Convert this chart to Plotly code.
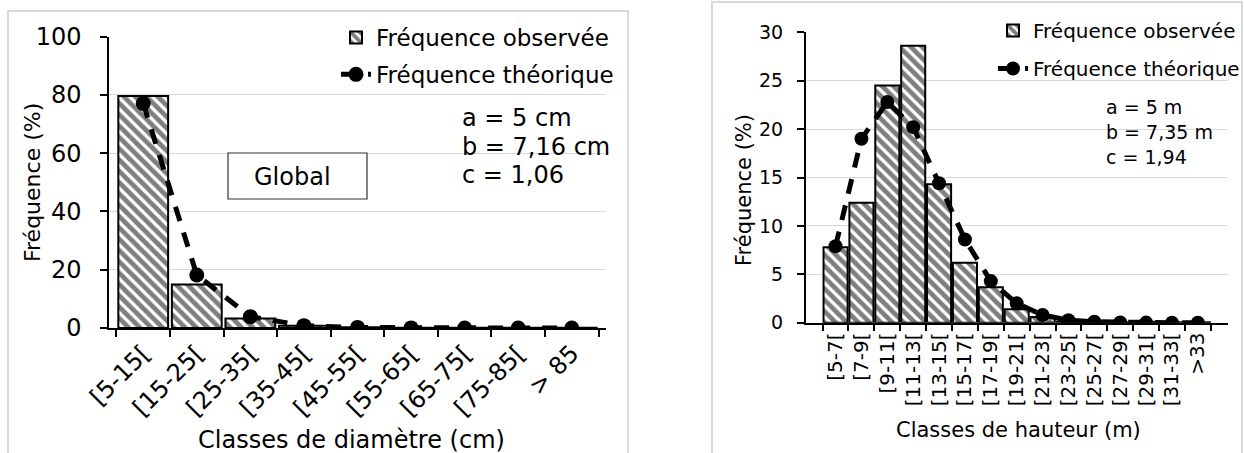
import plotly.graph_objects as go

# ---------------- data ----------------
diam_classes = ["[5-15[", "[15-25[", "[25-35[", "[35-45[", "[45-55[", "[55-65[", "[65-75[", "[75-85[", "> 85"]
diam_obs = [79.6, 14.9, 3.3, 0.8, 0.3, 0.1, 0.1, 0.05, 0.05]
diam_theo = [77.0, 18.2, 3.9, 0.8, 0.2, 0.04, 0.01, 0.0, 0.0]

haut_classes = ["[5-7[", "[7-9[", "[9-11[", "[11-13[", "[13-15[", "[15-17[", "[17-19[", "[19-21[",
                "[21-23[", "[23-25[", "[25-27[", "[27-29[", "[29-31[", "[31-33[", ">33"]
haut_obs = [7.8, 12.4, 24.5, 28.6, 14.3, 6.2, 3.65, 1.4, 0.6, 0.1, 0.1, 0.05, 0.1, 0.05, 0.05]
haut_theo = [7.9, 19.0, 22.8, 20.2, 14.4, 8.6, 4.3, 2.0, 0.8, 0.25, 0.1, 0.03, 0.01, 0.0, 0.0]

obs_name = "Fréquence observée"
theo_name = "Fréquence théorique"
left_params = ["a = 5 cm", "b = 7,16 cm", "c = 1,06"]
right_params = ["a = 5 m", "b = 7,35 m", "c = 1,94"]

W, H = 1244, 453
FONT = "DejaVu Sans, Liberation Sans, Arial, sans-serif"

def px(x):
    return x / W

def py(y):
    return (H - y) / H

fig = go.Figure()

pattern = dict(shape="\\", fgcolor="black", bgcolor="white", size=8, solidity=0.6)
dash_line = dict(color="black", width=5, dash="15px,12px")

fig.add_trace(go.Bar(x=diam_classes, y=diam_obs, name=obs_name, xaxis="x", yaxis="y",
                     marker=dict(color="white", pattern=pattern, line=dict(color="black", width=2)),
                     legend="legend", legendgroup="a"))
fig.add_trace(go.Scatter(x=diam_classes, y=diam_theo, name=theo_name, xaxis="x", yaxis="y",
                         mode="lines+markers", line=dash_line,
                         marker=dict(color="black", size=15),
                         legend="legend", legendgroup="b"))

fig.add_trace(go.Bar(x=haut_classes, y=haut_obs, name=obs_name, xaxis="x2", yaxis="y2",
                     marker=dict(color="white", pattern=pattern, line=dict(color="black", width=2)),
                     legend="legend2", legendgroup="c"))
fig.add_trace(go.Scatter(x=haut_classes, y=haut_theo, name=theo_name, xaxis="x2", yaxis="y2",
                         mode="lines+markers", line=dash_line,
                         marker=dict(color="black", size=14),
                         legend="legend2", legendgroup="d"))

axis_common = dict(showline=True, linecolor="black", linewidth=1.5, ticks="outside",
                   tickcolor="black", tickwidth=1.5, ticklen=7, color="black", automargin=False)

fig.update_layout(
    width=W, height=H, margin=dict(l=0, r=0, t=0, b=0, autoexpand=False),
    paper_bgcolor="white", plot_bgcolor="white",
    font=dict(family=FONT, color="black"),
    bargap=0.07,
    xaxis=dict(domain=[px(109), px(606)], anchor="y", type="category", tickson="boundaries",
               tickangle=-45, tickfont=dict(size=24), showgrid=False, **axis_common),
    yaxis=dict(domain=[py(328), py(36.5)], anchor="x", range=[0, 100], dtick=20,
               showgrid=True, gridcolor="#d9d9d9", gridwidth=1, zeroline=False,
               tickfont=dict(size=24), ticklabelstandoff=14, **axis_common),
    xaxis2=dict(domain=[px(805.7), px(1227.7)], anchor="y2", type="category", tickson="boundaries",
                tickangle=-90, tickfont=dict(size=20), showgrid=False, **axis_common),
    yaxis2=dict(domain=[py(322.7), py(32.3)], anchor="x2", range=[0, 30], dtick=5,
                showgrid=True, gridcolor="#d9d9d9", gridwidth=1, zeroline=False,
                tickfont=dict(size=19), ticklabelstandoff=10, **axis_common),
    legend=dict(x=px(336), y=py(16), xanchor="left", yanchor="top", bgcolor="rgba(0,0,0,0)",
                font=dict(size=23), traceorder="grouped", tracegroupgap=4),
    legend2=dict(x=px(993), y=py(11), xanchor="left", yanchor="top", bgcolor="rgba(0,0,0,0)",
                 font=dict(size=20), traceorder="grouped", tracegroupgap=9),
    showlegend=True,
)

# frames around each panel
fig.add_shape(type="rect", xref="paper", yref="paper", x0=px(8), x1=px(628), y0=-0.1, y1=py(11),
              line=dict(color="#d9d9d9", width=2), fillcolor="rgba(0,0,0,0)", layer="below")
fig.add_shape(type="rect", xref="paper", yref="paper", x0=px(712), x1=px(1242), y0=-0.1, y1=py(2),
              line=dict(color="#d9d9d9", width=2), fillcolor="rgba(0,0,0,0)", layer="below")

# "Global" box
fig.add_shape(type="rect", xref="paper", yref="paper", x0=px(228), x1=px(367), y0=py(199), y1=py(153),
              line=dict(color="#333333", width=1.2), fillcolor="white", layer="above")
fig.add_annotation(text="Global", xref="paper", yref="paper", x=px(292), y=py(177),
                   xanchor="center", yanchor="middle", showarrow=False, font=dict(size=24))

# parameters
for txt, yy in zip(left_params, [118, 147, 175]):
    fig.add_annotation(text=txt, xref="paper", yref="paper", x=px(460), y=py(yy),
                       xanchor="left", yanchor="middle", showarrow=False, font=dict(size=24))
for txt, yy in zip(right_params, [107, 132, 157]):
    fig.add_annotation(text=txt, xref="paper", yref="paper", x=px(1104), y=py(yy),
                       xanchor="left", yanchor="middle", showarrow=False, font=dict(size=19))

# axis titles
fig.add_annotation(text="Fréquence (%)", xref="paper", yref="paper", x=px(33), y=py(183),
                   textangle=-90, xanchor="center", yanchor="middle", showarrow=False, font=dict(size=22))
fig.add_annotation(text="Classes de diamètre (cm)", xref="paper", yref="paper", x=px(351), y=py(440),
                   xanchor="center", yanchor="middle", showarrow=False, font=dict(size=24))
fig.add_annotation(text="Fréquence (%)", xref="paper", yref="paper", x=px(744), y=py(190),
                   textangle=-90, xanchor="center", yanchor="middle", showarrow=False, font=dict(size=21))
fig.add_annotation(text="Classes de hauteur (m)", xref="paper", yref="paper", x=px(1018), y=py(430),
                   xanchor="center", yanchor="middle", showarrow=False, font=dict(size=21))

fig.write_html("out.html")
